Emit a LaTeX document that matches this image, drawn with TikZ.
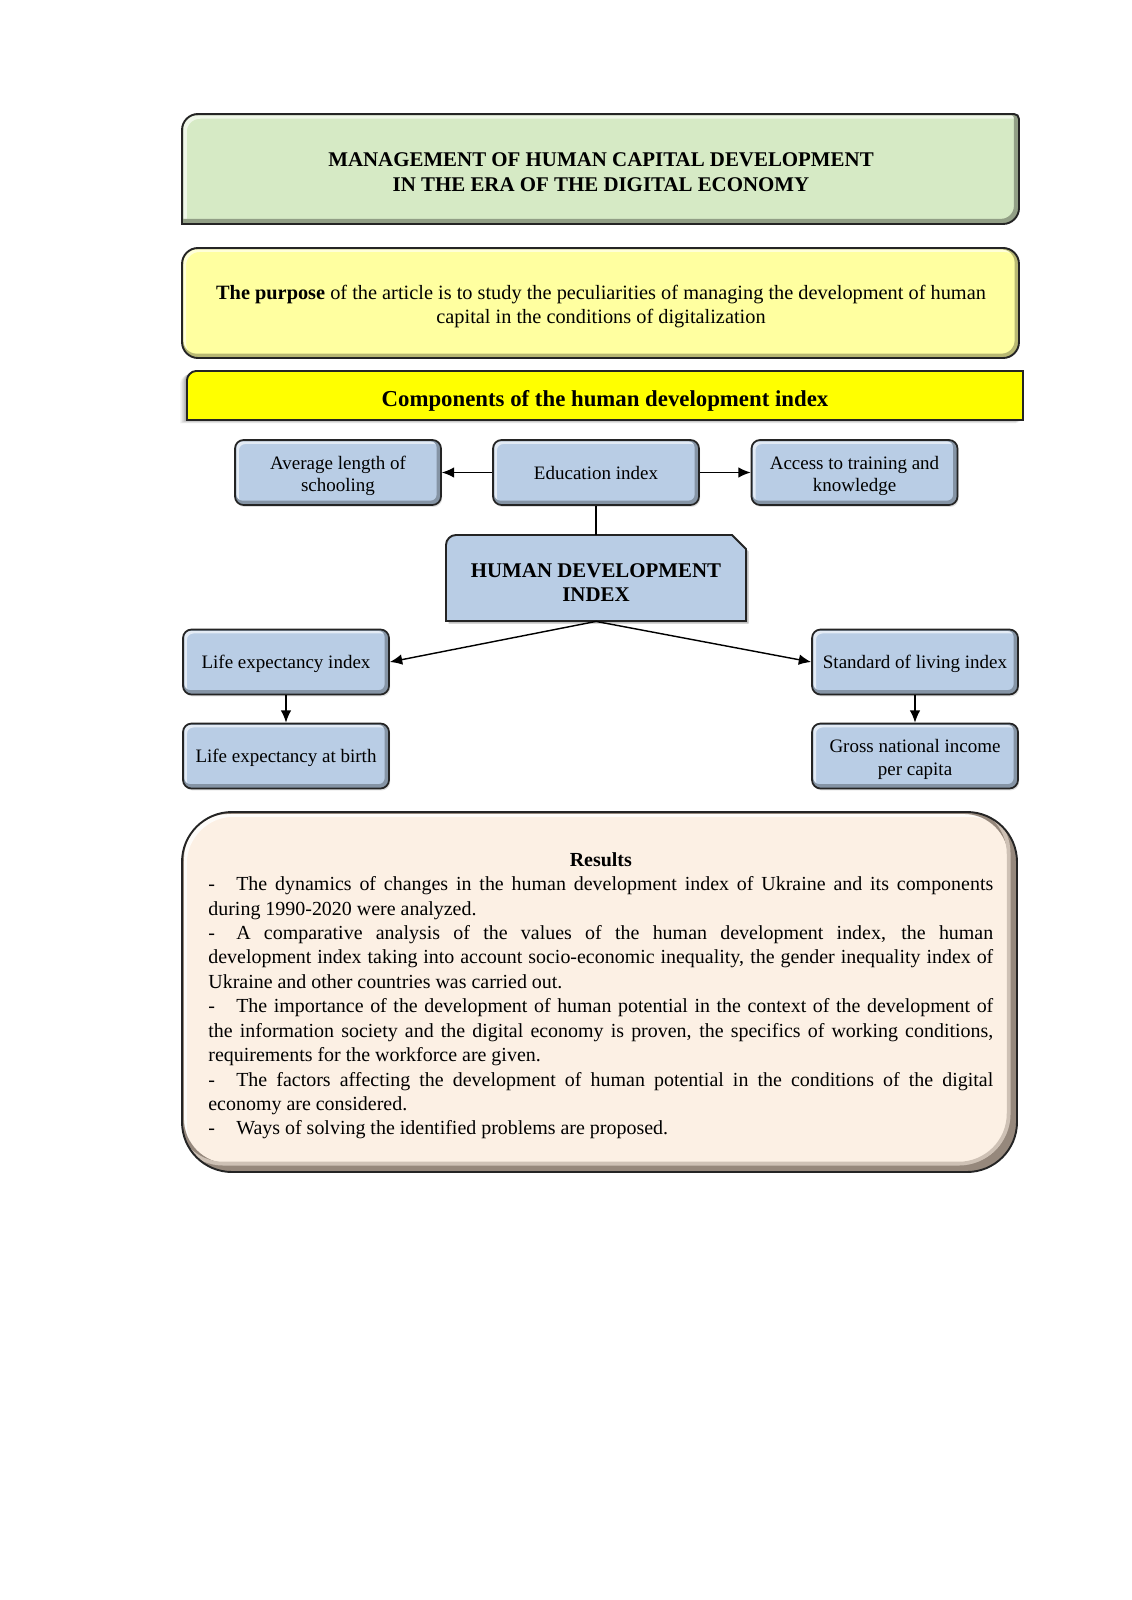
\documentclass[tikz,border=0pt]{standalone}
\usepackage{fontspec}
\setmainfont{Liberation Serif}
\usetikzlibrary{arrows.meta,shadows}

\definecolor{ttlgreen}{RGB}{214,234,197}
\definecolor{purpyellow}{RGB}{255,255,160}
\definecolor{compyellow}{RGB}{255,255,0}
\definecolor{boxblue}{RGB}{185,205,229}
\definecolor{resbeige}{RGB}{252,240,228}
\definecolor{resrim}{RGB}{150,136,124}
\definecolor{edgecol}{RGB}{36,36,36}

\tikzset{
  bevel/.style 2 args={
    fill=#1, rounded corners=#2,
    path picture={
      \draw[line width=2.6pt, draw=#1!40!white, rounded corners=#2]
        ([shift={(0.8pt,-0.8pt)}]path picture bounding box.south west) rectangle
        ([shift={(0.8pt,-0.8pt)}]path picture bounding box.north east);
      \draw[line width=3pt, draw=#1!72!black, rounded corners=#2]
        ([shift={(-0.8pt,0.8pt)}]path picture bounding box.south west) rectangle
        ([shift={(-0.8pt,0.8pt)}]path picture bounding box.north east);
    }
  },
  smallbox/.style={
    bevel={boxblue}{4.5pt}, draw=edgecol, line width=0.9pt,
    minimum width=108.4pt, minimum height=34.2pt, inner sep=2pt,
    align=center, font=\fontsize{10}{11.8}\selectfont,
    text height=6.9pt, text depth=0pt,
    drop shadow={opacity=0.25, shadow xshift=0.6pt, shadow yshift=-1pt}
  },
  twoline/.style={text height=20.4pt},
  link/.style={draw=black, line width=0.75pt},
  arrowlink/.style={link, -{Latex[length=6.5pt,width=5.6pt]}},
}

\begin{document}
\begin{tikzpicture}[x={(0.5262pt,0pt)}, y={(0pt,-0.5262pt)}]
  \fill[white] (0,0) rectangle (1131,1600);
  \useasboundingbox (0,0) rectangle (1131,1600);

  % ---------- title banner: rounded top-left and bottom-right corners ----------
  \def\ttlpath{(182,224) -- (182,130) .. controls (182,121.2) and (189.2,114) .. (198,114)
     -- (1014,114) .. controls (1016.8,114) and (1019,116.2) .. (1019,119)
     -- (1019,208) .. controls (1019,216.8) and (1011.8,224) .. (1003,224) -- cycle}
  \fill[ttlgreen] \ttlpath;
  \begin{scope}
    \clip \ttlpath;
    \draw[line width=3pt, ttlgreen!40!white, shift={(1pt,-1pt)}] \ttlpath;
    \draw[line width=3.4pt, ttlgreen!68!black, shift={(-1pt,1pt)}] \ttlpath;
  \end{scope}
  \draw[edgecol, line width=1pt] \ttlpath;
  \node[font=\fontsize{11}{12.9}\selectfont\bfseries, align=center] (title) at (601,172)
    {MANAGEMENT OF HUMAN CAPITAL DEVELOPMENT\\IN THE ERA OF THE DIGITAL ECONOMY};

  % ---------- purpose ----------
  \node[bevel={purpyellow}{8.4pt}, draw=edgecol, line width=1pt,
        minimum width=440.4pt, minimum height=57.9pt] (purposebox) at (600.5,303) {};
  \node[align=center, font=\fontsize{10.7}{12.6}\selectfont] (purpose) at (601,307)
    {\textbf{The purpose} of the article is to study the peculiarities of managing the development of human\\capital in the conditions of digitalization};

  % ---------- components bar ----------
  \def\comppath{(187,420) -- (187,380) .. controls (187,376) and (191,371) .. (196,371)
     -- (1023,371) -- (1023,420) -- cycle}
  \foreach \s/\o in {1/0.10,2/0.09,3/0.08,4/0.06,5/0.05,6/0.04}
    \fill[black, opacity=\o, shift={(-\s*0.6pt,-\s*0.3pt)}] \comppath;
  \fill[compyellow] \comppath;
  \draw[edgecol, line width=1pt] \comppath;
  \node[font=\fontsize{12}{14}\selectfont\bfseries] (comp) at (605,401)
    {Components of the human development index};

  % ---------- education row ----------
  \node[smallbox, twoline] (avg) at (338,472.5) {Average length of\\schooling};
  \node[smallbox] (edu) at (596,472.5) {Education index};
  \node[smallbox, twoline] (acc) at (854.5,472.5) {Access to training and\\knowledge};

  % ---------- central index: rounded top-left, snipped top-right ----------
  \def\hdipath{(446,621) -- (446,545) .. controls (446,539.5) and (450.5,535) .. (456,535)
     -- (732,535) -- (746,549) -- (746,621) -- cycle}
  \fill[black, opacity=0.25, shift={(1.4pt,-1.4pt)}] \hdipath;
  \fill[boxblue] \hdipath;
  \draw[edgecol, line width=1pt] \hdipath;
  \node[minimum width=157.9pt, minimum height=45.3pt, inner sep=0pt] (hdi) at (596,578) {};
  \node[align=center, font=\fontsize{11}{12.6}\selectfont\bfseries] (hditext) at (596,583)
    {HUMAN DEVELOPMENT\\INDEX};

  % ---------- side branches ----------
  \node[smallbox] (lifeidx) at (286,662) {Life expectancy index};
  \node[smallbox] (stdidx) at (915,662) {Standard of living index};
  \node[smallbox] (birth) at (286,756) {Life expectancy at birth};
  \node[smallbox, twoline] (gni) at (915,756) {Gross national income\\per capita};

  % ---------- connectors ----------
  \draw[arrowlink] (edu.west) -- (avg.east);
  \draw[arrowlink] (edu.east) -- (acc.west);
  \draw[link] (edu.south) -- (hdi.north);
  \draw[arrowlink] (hdi.south) -- (lifeidx.east);
  \draw[arrowlink] (hdi.south) -- (stdidx.west);
  \draw[arrowlink] (lifeidx.south) -- (birth.north);
  \draw[arrowlink] (stdidx.south) -- (gni.north);

  % ---------- results panel ----------
  \def\respath{[rounded corners=26.3pt] (182,812) rectangle (1017,1172)}
  \fill[resbeige] \respath;
  \begin{scope}
    \clip \respath;
    \draw[line width=3pt, white, opacity=0.8, shift={(1pt,-1pt)}] \respath;
    \draw[line width=5.5pt, resrim, shift={(-1.75pt,1.75pt)}] \respath;
    \draw[line width=2pt, resrim!45!resbeige, shift={(-4.4pt,4.4pt)}] \respath;
  \end{scope}
  \draw[edgecol, line width=1pt] \respath;

  \node[anchor=north west, inner sep=0pt, text width=413pt, align=justify,
        font=\fontsize{10.5}{12.85}\selectfont] (res) at (208,852) {%
    \setlength\parindent{0pt}\spaceskip=0.25em plus 0.4em minus 0.12em
    \tolerance=10000\hyphenpenalty=10000\exhyphenpenalty=10000
    {\centering\textbf{Results}\par}
    \makebox[14.7pt][l]{-}The dynamics of changes in the human development index of Ukraine and its components\linebreak
    during 1990-2020 were analyzed.\par
    \makebox[14.7pt][l]{-}A comparative analysis of the values of the human development index, the human\linebreak
    development index taking into account socio-economic inequality, the gender inequality index of\linebreak
    Ukraine and other countries was carried out.\par
    \makebox[14.7pt][l]{-}The importance of the development of human potential in the context of the development of\linebreak
    the information society and the digital economy is proven, the specifics of working conditions,\linebreak
    requirements for the workforce are given.\par
    \makebox[14.7pt][l]{-}The factors affecting the development of human potential in the conditions of the digital\linebreak
    economy are considered.\par
    \makebox[14.7pt][l]{-}Ways of solving the identified problems are proposed.\par};
\end{tikzpicture}
\end{document}
